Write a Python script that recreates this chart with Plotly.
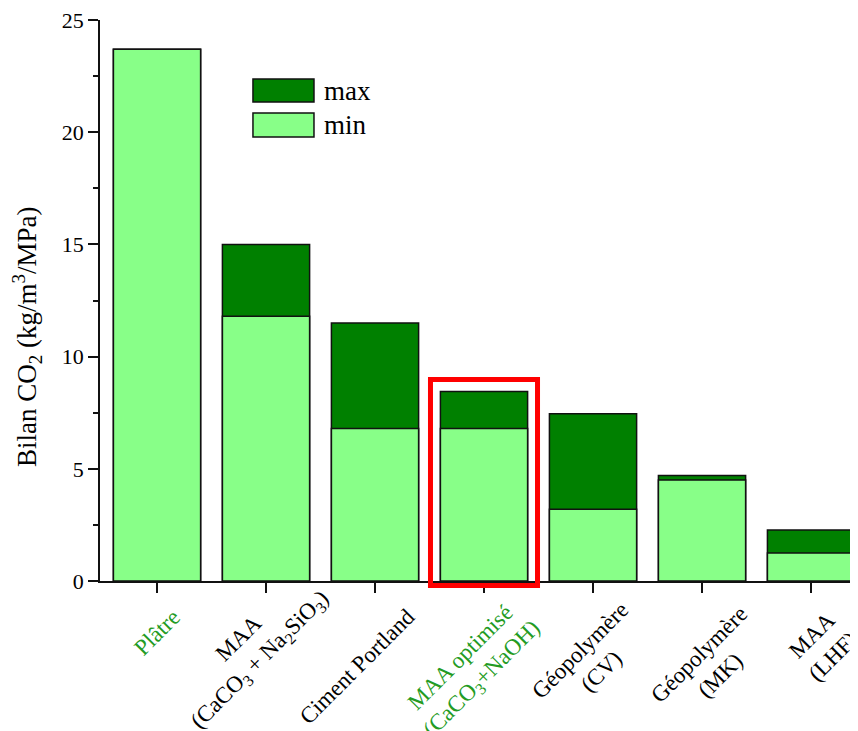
import plotly.graph_objects as go

# ---- data ----
categories = ["Plâtre", "MAA (CaCO3 + Na2SiO3)", "Ciment Portland",
              "MAA optimisé (CaCO3+NaOH)", "Géopolymère (CV)",
              "Géopolymère (MK)", "MAA (LHF)"]
tick_labels = [
    "Plâtre",
    "MAA<br>(CaCO<sub>3</sub> + Na<sub>2</sub>SiO<sub>3</sub>)",
    "Ciment Portland",
    "MAA optimisé<br>(CaCO<sub>3</sub>+NaOH)",
    "Géopolymère<br>(CV)",
    "Géopolymère<br>(MK)",
    "MAA<br>(LHF)",
]
min_values = [23.7, 11.8, 6.8, 6.8, 3.2, 4.5, 1.25]
max_values = [23.7, 15.0, 11.5, 8.45, 7.45, 4.7, 2.27]
highlighted = [True, False, False, True, False, False, False]
y_ticks = [0, 5, 10, 15, 20, 25]

# ---- style / layout ----
LIGHT = "#88FF88"
DARK = "#008000"
LABEL_GREEN = "#239B23"
FONT = "Liberation Serif"
label_offsets = [(0, -51), (-16, -69), (-18, -85), (-12, -88),
                 (-3, -80), (7, -84), (11, -65)]

x = list(range(len(categories)))

fig = go.Figure()
fig.add_trace(go.Bar(x=x, y=max_values, name="max", width=0.8,
                     marker=dict(color=DARK, line=dict(color="#111", width=1.5)),
                     showlegend=False))
fig.add_trace(go.Bar(x=x, y=min_values, name="min", width=0.8,
                     marker=dict(color=LIGHT, line=dict(color="#111", width=1.5)),
                     showlegend=False))

annotations = []
for i, (lab, hl, (dx, dy)) in enumerate(zip(tick_labels, highlighted, label_offsets)):
    annotations.append(dict(
        x=i, y=0, xref="x", yref="y", text=lab, showarrow=False,
        textangle=-45, align="center", xanchor="center", yanchor="middle",
        xshift=dx, yshift=dy,
        font=dict(family=FONT, size=23, color=LABEL_GREEN if hl else "black")))

# y-axis title
annotations.append(dict(
    x=-0.0963, y=0.435, xref="paper", yref="paper",
    text="Bilan CO<sub>2</sub> (kg/m<sup>3</sup>/MPa)", showarrow=False,
    textangle=-90, xanchor="center", yanchor="middle",
    font=dict(family=FONT, size=27, color="black")))

# legend texts
for name, yc in [("max", 0.8734), ("min", 0.8128)]:
    annotations.append(dict(
        x=0.2929, y=yc, xref="paper", yref="paper", text=name, showarrow=False,
        xanchor="left", yanchor="middle",
        font=dict(family=FONT, size=27, color="black")))

shapes = [
    dict(type="rect", xref="paper", yref="paper", x0=0.2018, x1=0.2823,
         y0=0.8538, y1=0.8948, fillcolor=DARK, line=dict(color="#111", width=1.5)),
    dict(type="rect", xref="paper", yref="paper", x0=0.2018, x1=0.2823,
         y0=0.7914, y1=0.8342, fillcolor=LIGHT, line=dict(color="#111", width=1.5)),
    # red highlight box around optimised MAA
    dict(type="rect", xref="paper", yref="paper", x0=0.4360, x1=0.5772,
         y0=-0.008, y1=0.3592, line=dict(color="#FF0000", width=5), layer="above"),
]

# page body has an 8px margin: figure is sized/positioned to compensate
fig.update_layout(
    width=850, height=723,
    margin=dict(l=92, r=0, t=12, b=150),
    barmode="overlay",
    plot_bgcolor="white", paper_bgcolor="white",
    font=dict(family=FONT, size=22, color="black"),
    annotations=annotations, shapes=shapes,
    showlegend=False,
)
fig.update_xaxes(range=[-0.523, 6.431], tickvals=x, showticklabels=False,
                 ticks="outside", ticklen=10, tickwidth=1.5, tickcolor="#111",
                 showline=True, linecolor="#111", linewidth=1.5,
                 showgrid=False, zeroline=False)
fig.update_yaxes(range=[0, 25], tickvals=y_ticks, ticklabeloverflow="allow",
                 ticks="outside", ticklen=10, tickwidth=1.5, tickcolor="#111",
                 minor=dict(tickvals=[2.5, 7.5, 12.5, 17.5, 22.5], ticks="outside",
                            ticklen=5, tickwidth=1.5, tickcolor="#111"),
                 tickfont=dict(family=FONT, size=22, color="black"),
                 showline=True, linecolor="#111", linewidth=1.5,
                 showgrid=False, zeroline=False)

fig.write_html("out.html")
